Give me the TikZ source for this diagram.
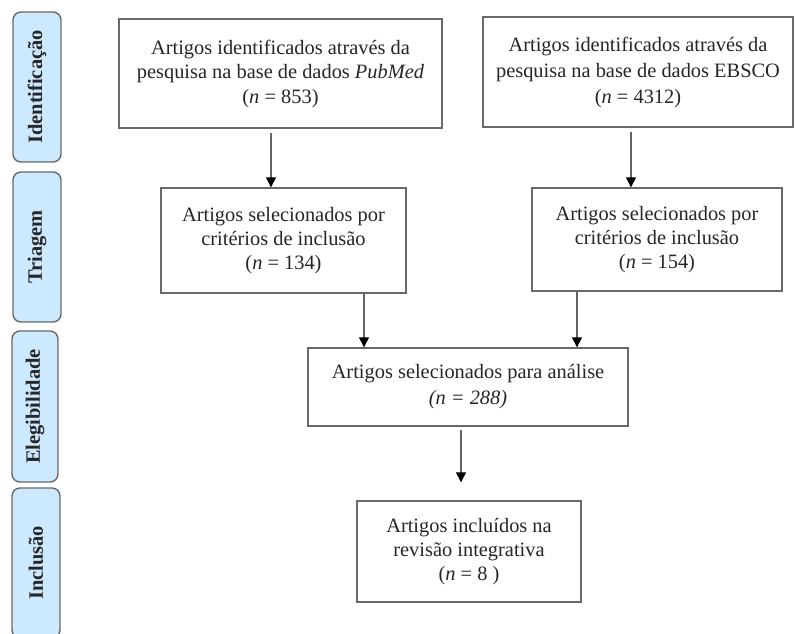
\documentclass[tikz,border=0pt]{standalone}
\usepackage{fontspec}
\setmainfont{Liberation Serif}
\usepackage{tikz}
\usetikzlibrary{positioning,arrows.meta}
\definecolor{phaseblue}{RGB}{204,233,255}
\definecolor{boxgray}{RGB}{105,105,105}

\begin{document}
\begin{tikzpicture}[x=1pt,y=-1pt,
    stage/.style={draw=boxgray,line width=1.4pt,rounded corners=8pt,fill=phaseblue,rotate=90,
      minimum height=48pt,inner sep=0pt,font=\fontsize{20.4}{24}\selectfont\bfseries,text=black!85},
    box/.style={draw=boxgray,line width=1.4pt,fill=white,align=center,inner sep=0pt,
      font=\fontsize{20.4}{24}\selectfont,text=black!85},
    flow/.style={-{Triangle[length=10pt,width=10pt,black]},draw=gray!80!black,line width=1.3pt}]
              \useasboundingbox (0,0) rectangle (795,634);
              \clip (0,0) rectangle (795,634);

              %phases
              \node[stage,minimum width=150pt] (ident) at (37,87) {Identificação};
              \node[stage,minimum width=150pt] (triag) at (37,247) {Triagem};
              \node[stage,minimum width=151pt,minimum height=46pt] (eleg) at (35,406.5) {Elegibilidade};
              \node[stage,minimum width=150pt] (inclu) at (36,563) {Inclusão};

              %boxes
              \node[box,minimum width=323pt,minimum height=109pt] (pubmed) at (280.5,73.5)
                {Artigos identificados através da\\pesquisa na base de dados \textit{PubMed}\\[1pt](\textit{n} = 853)};
              \node[box,minimum width=310pt,minimum height=110pt] (ebsco) at (638,72)
                {Artigos identificados através da\\[2pt]pesquisa na base de dados EBSCO\\[2pt](\textit{n} = 4312)};
              \node[box,minimum width=245pt,minimum height=105pt] (triapub) at (283.5,240.5)
                {Artigos selecionados por\\critérios de inclusão\\(\textit{n} = 134)};
              \node[box,minimum width=250pt,minimum height=103pt] (triaebs) at (657,239.5)
                {Artigos selecionados por\\critérios de inclusão\\(\textit{n} = 154)};
              \node[box,minimum width=320pt,minimum height=78pt] (analise) at (468,387)
                {Artigos selecionados para análise\\[2pt]\textit{(n = 288)}};
              \node[box,minimum width=224pt,minimum height=101pt] (incl) at (469,551.5)
                {Artigos incluídos na\\revisão integrativa\\(\textit{n} = 8 )};

              %arrows
              \draw[flow] ([xshift=-9.5pt,yshift=-4pt]pubmed.south) -- ([xshift=-12.5pt]triapub.north);
              \draw[flow] ([xshift=-7pt,yshift=-4pt]ebsco.south) -- ([xshift=-26pt]triaebs.north);
              \draw[flow] ([xshift=80.5pt]triapub.south) -- ([xshift=-104pt]analise.north);
              \draw[flow] ([xshift=-80pt]triaebs.south) -- ([xshift=109pt]analise.north);
              \draw[flow] ([xshift=-7pt,yshift=-3pt]analise.south) -- ([xshift=-8pt,yshift=18pt]incl.north);
            \end{tikzpicture}
\end{document}
